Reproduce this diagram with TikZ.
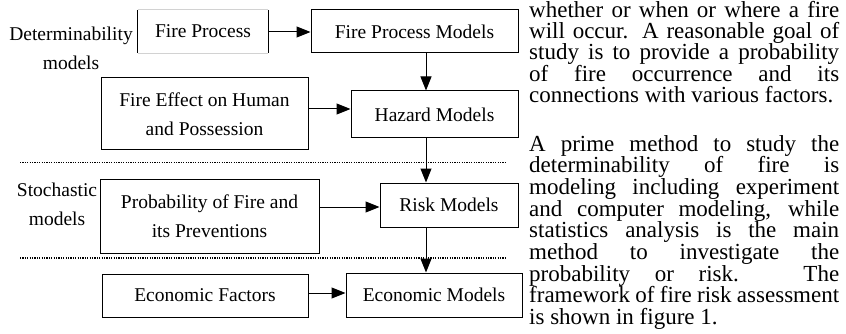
\documentclass[tikz,border=0pt]{standalone}
\usepackage{fontspec}
\setmainfont{Liberation Serif}
\usetikzlibrary{arrows.meta}
\begin{document}
\begin{tikzpicture}[x=1pt,y=-1pt,
  diag/.style={font={\fontsize{19.5}{29}\selectfont}},
  box/.style={diag,draw=black,line width=1pt,inner sep=0pt,align=center},
  lbl/.style={diag,inner sep=0pt,align=center},
  arr/.style={line width=1pt,-{Triangle[length=14pt,width=11pt]}},
  dotline/.style={line width=1.2pt,dash pattern=on 1.1pt off 1.3pt},
  para/.style={font={\fontsize{23}{21.7}\selectfont},inner sep=0pt,anchor=base west}]
\useasboundingbox (0,0) rectangle (846,334);
% labels
\node[lbl] (detl) at (71,48) {Determinability\\models};
\node[lbl] (stol) at (57,204) {Stochastic\\models};
% boxes
\node[lbl,minimum width=130pt,minimum height=43pt] (fp) at (203,31.5) {Fire Process};
\draw[line width=1pt] (fp.north west) -- (fp.south west);
\draw[line width=1pt] (fp.north east) -- (fp.south east);
\draw[gray!35,line width=0.6pt] (fp.north west) -- (fp.north east);
\draw[gray!35,line width=0.6pt] (fp.south west) -- (fp.south east);
\node[box,minimum width=207pt,minimum height=43pt] (fpm) at (414.5,31.5) {Fire Process Models};
\node[box,minimum width=207pt,minimum height=72pt] (fe) at (204.5,114) {Fire Effect on Human\\and Possession};
\node[box,minimum width=167pt,minimum height=47pt] (hz) at (434.5,114.5) {Hazard Models};
\node[box,minimum width=219pt,minimum height=74pt] (pr) at (209.5,216) {Probability of Fire and\\its Preventions};
\node[box,minimum width=138pt,minimum height=44pt] (rk) at (449,205) {Risk Models};
\node[box,minimum width=206pt,minimum height=43pt] (ef) at (205,295.5) {Economic Factors};
\node[box,minimum width=176pt,minimum height=44pt] (em) at (434,295) {Economic Models};
% dotted separators
\draw[dotline] (20,162.5) -- (506,162.5);
\draw[dotline] (20,258) -- (506,258);
% connectors
\coordinate (colx) at (426,0);
\coordinate (r1) at (0,32);
\coordinate (r2) at (0,109);
\coordinate (r3) at (0,207);
\coordinate (r4) at (0,293);
\draw[arr] (fp.east |- r1) -- (fpm.west |- r1);
\draw[arr] (fe.east |- r2) -- (hz.west |- r2);
\draw[arr] (pr.east |- r3) -- (rk.west |- r3);
\draw[arr] (ef.east |- r4) -- (em.west |- r4);
\draw[arr] (fpm.south -| colx) -- (hz.north -| colx);
\draw[arr] (hz.south -| colx) -- (rk.north -| colx);
\draw[arr] (rk.south -| colx) -- (em.north -| colx);
% paragraph text
\node[para] (t1) at (529,17.5) {\makebox[310pt][s]{whether or when or where a fire}};
\node[para] (t2) at (529,38.5) {\makebox[310pt][s]{will occur. A reasonable goal of}};
\node[para] (t3) at (529,59.8) {\makebox[310pt][s]{study is to provide a probability}};
\node[para] (t4) at (529,81.3) {\makebox[310pt][s]{of fire occurrence and its}};
\node[para] (t5) at (529,102.8) {connections with various factors.};
\node[para] (t6) at (529,151) {\makebox[310pt][s]{A prime method to study the}};
\node[para] (t7) at (529,172.7) {\makebox[310pt][s]{determinability of fire is}};
\node[para] (t8) at (529,194.4) {\makebox[310pt][s]{modeling including experiment}};
\node[para] (t9) at (529,216.1) {\makebox[310pt][s]{and computer modeling, while}};
\node[para] (t10) at (529,237.8) {\makebox[310pt][s]{statistics analysis is the main}};
\node[para] (t11) at (529,259.5) {\makebox[310pt][s]{method to investigate the}};
\node[para] (t12) at (529,281.2) {\makebox[310pt][s]{probability or risk. The}};
\node[para] (t13) at (529,302.9) {\makebox[310pt][s]{framework of fire risk assessment}};
\node[para] (t14) at (529,324.6) {is shown in figure 1.};
\end{tikzpicture}
\end{document}
